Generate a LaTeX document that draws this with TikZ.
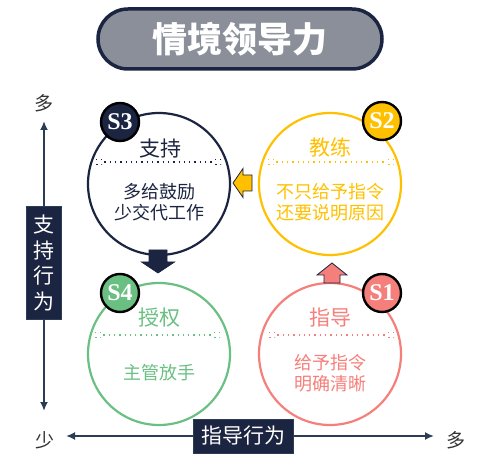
\documentclass[tikz,border=0pt]{standalone}
\usepackage{fontspec}
\setmainfont{Liberation Serif}
\newfontfamily\cjk{Noto Sans CJK SC}
\usetikzlibrary{arrows.meta}
\definecolor{navy}{HTML}{1B2440}
\definecolor{axisc}{HTML}{2B3D55}
\definecolor{gold}{HTML}{FFC000}
\definecolor{leaf}{HTML}{6ABF83}
\definecolor{rose}{HTML}{F57F7A}
\definecolor{slate}{HTML}{8A8F99}
\tikzset{
  quad/.style={circle,draw=#1,line width=2.2pt,minimum size=142pt,inner sep=0pt},
  badge/.style={circle,draw=black,line width=2.4pt,fill=#1,minimum size=38pt,
    inner sep=0pt,text=white,font=\fontsize{24}{24}\selectfont\bfseries},
  head/.style={text=#1,font=\cjk\fontsize{21}{21}\selectfont},
  body/.style={text=#1,font=\cjk\fontsize{18}{21}\selectfont,align=center},
  sq/.style={draw=#1,fill=white,line width=0.6pt,minimum size=5.5pt,inner sep=0pt},
  sep/.style={#1,line width=1.3pt,dash pattern=on 1.3pt off 4pt},
  axislbl/.style={fill=navy,draw=axisc,line width=1pt,text=white,
    font=\cjk\fontsize{21}{25.5}\selectfont,inner sep=3pt},
  endlbl/.style={text=black!80,font=\cjk\fontsize{19}{19}\selectfont},
  blockarrow/.style={fill=#1,draw=navy,line width=0.8pt,line join=miter}
}
\begin{document}
\begin{tikzpicture}[x=1pt,y=-1pt,>={Latex[length=9pt,width=8pt]}]
\useasboundingbox (0,0) rectangle (495,462);
% titulek
\node[rounded corners=30pt,fill=slate,draw=navy,line width=3.5pt,
  minimum width=284pt,minimum height=60pt,text=white,
  font=\cjk\fontsize{35}{35}\selectfont\bfseries] (title) at (240,39) {情境领导力};

% osy
\coordinate (ytop) at (44,121);
\coordinate (ybot) at (44,411);
\coordinate (xleft) at (66,436);
\coordinate (xright) at (434,436);
\draw[<->,axisc,line width=2.4pt] (ybot) -- (ytop);
\draw[<->,axisc,line width=2.4pt] (xleft) -- (xright);
\node[axislbl,align=center,minimum width=35pt,minimum height=113pt] (ylbl) at (44,263) {支\\持\\行\\为};
\node[axislbl,minimum width=100pt,minimum height=34pt] (xlbl) at (243,436) {指导行为};
\node[endlbl] (ymore) at (44,103) {多};
\node[endlbl] (xless) at (45,440) {少};
\node[endlbl] (xmore) at (456,440) {多};

% ctyri styly
\node[quad=navy] (s3) at (159,184) {};
\node[quad=gold] (s2) at (330,184) {};
\node[quad=leaf] (s4) at (159,354) {};
\node[quad=rose] (s1) at (330,354) {};

% S3
\node[head=navy] (s3h) at (160,149) {支持};
\draw[sep=navy] (99,162) node[sq=navy]{} -- (218,162) node[sq=navy]{};
\node[body=navy] (s3b) at (159,202) {多给鼓励\\少交代工作};
% S2
\node[head=gold] (s2h) at (330,148) {教练};
\draw[sep=gold] (271,162) node[sq=gold]{} -- (391,162) node[sq=gold]{};
\node[body=gold] (s2b) at (330,202) {不只给予指令\\还要说明原因};
% S4
\node[head=leaf] (s4h) at (159,318) {授权};
\draw[sep=leaf] (98,335) node[sq=leaf]{} -- (217,335) node[sq=leaf]{};
\node[body=leaf] (s4b) at (159,373) {主管放手};
% S1
\node[head=rose] (s1h) at (330,318) {指导};
\draw[sep=rose] (272,335) node[sq=rose]{} -- (391,335) node[sq=rose]{};
\node[body=rose] (s1b) at (330,373) {给予指令\\明确清晰};

% odznaky
\node[badge=navy] (b3) at (120,122) {S3};
\node[badge=gold] (b2) at (382,121) {S2};
\node[badge=leaf] (b4) at (120,293) {S4};
\node[badge=rose] (b1) at (382,293) {S1};

% sipky mezi styly
\filldraw[blockarrow=gold] (233,183) -- ++(10,-14.5) -- ++(0,6.5) -- ++(9,0)
  -- ++(0,16) -- ++(-9,0) -- ++(0,6.5) -- cycle;
\filldraw[blockarrow=navy] (158,273) -- ++(-16.5,-11) -- ++(7.5,0) -- ++(0,-12)
  -- ++(18,0) -- ++(0,12) -- ++(7.5,0) -- cycle;
\filldraw[blockarrow=rose] (332,263) -- ++(15,12) -- ++(-7,0) -- ++(0,8)
  -- ++(-16,0) -- ++(0,-8) -- ++(-7,0) -- cycle;
\end{tikzpicture}
\end{document}
